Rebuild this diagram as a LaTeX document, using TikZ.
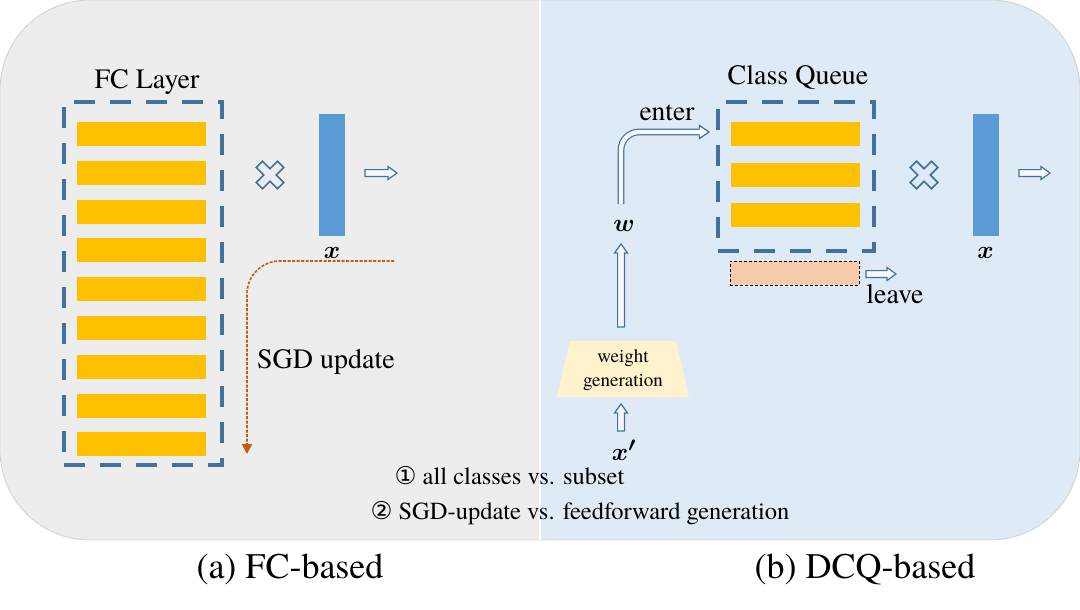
\documentclass[tikz,border=0pt]{standalone}
\usepackage{fontspec}
\setmainfont{texgyretermes}[Extension=.otf, UprightFont=*-regular, ItalicFont=*-italic, BoldFont=*-bold, BoldItalicFont=*-bolditalic]
\newfontfamily\symfont{DejaVu Sans}
\usetikzlibrary{arrows.meta}
\definecolor{panelgray}{HTML}{EDEDED}
\definecolor{panelblue}{HTML}{DEEAF6}
\definecolor{qyellow}{HTML}{FFC000}
\definecolor{vecblue}{HTML}{5B9BD5}
\definecolor{dashblue}{HTML}{41719C}
\definecolor{leavepink}{HTML}{F8CBAD}
\definecolor{genyellow}{HTML}{FFF2CC}
\definecolor{sgdorange}{HTML}{C55A11}
\tikzset{
  rowbar/.style={fill=qyellow, draw=none, minimum width=129pt, minimum height=24pt, inner sep=0pt},
  vecbar/.style={fill=vecblue, draw=none, minimum width=26pt, minimum height=122pt, inner sep=0pt},
  layerbox/.style={draw=dashblue, line width=4.5pt, dash pattern=on 21pt off 15pt, inner sep=0pt},
  hollowhead/.style={draw=dashblue, line width=1.2pt, fill=white!70!panelblue, line join=miter},
  hollowshaft/.style={draw=dashblue, line width=1.2pt, double=white!70!panelblue, double distance=4.4pt},
  lbl/.style={inner sep=0pt, font=\fontsize{28}{32}\selectfont},
  mathlbl/.style={inner sep=0pt, font=\fontsize{29}{32}\selectfont\boldmath},
  noteline/.style={inner sep=0pt, font=\fontsize{24.5}{28}\selectfont},
  caption/.style={inner sep=0pt, font=\fontsize{36}{40}\selectfont},
  sgdline/.style={draw=sgdorange, line width=1.6pt, dash pattern=on 3pt off 1.5pt, rounded corners=33pt, -{Triangle[length=10pt,width=10pt]}},
  crossmark/.style={draw=dashblue, line width=1.6pt, fill=none, line join=miter}
}
\newcommand{\crossat}[2]{%
  \draw[crossmark, shift={(#1,#2)}, rotate=45]
    (4.5,15) -- (4.5,4.5) -- (15,4.5) -- (15,-4.5) -- (4.5,-4.5) -- (4.5,-15)
    -- (-4.5,-15) -- (-4.5,-4.5) -- (-15,-4.5) -- (-15,4.5) -- (-4.5,4.5) -- (-4.5,15) -- cycle;}
% hollow arrow pointing right: x0, y, x1
\newcommand{\hollowright}[3]{%
  \draw[hollowhead] (#1,#2-3.4) -- (#3-9,#2-3.4) -- (#3-9,#2-6.5) -- (#3,#2) -- (#3-9,#2+6.5) -- (#3-9,#2+3.4) -- (#1,#2+3.4) -- cycle;}
% hollow arrow pointing up: x, y0 (bottom), y1 (tip)
\newcommand{\hollowup}[3]{%
  \draw[hollowhead] (#1-3.4,#2) -- (#1-3.4,#3+9) -- (#1-6.5,#3+9) -- (#1,#3) -- (#1+6.5,#3+9) -- (#1+3.4,#3+9) -- (#1+3.4,#2) -- cycle;}
\begin{document}
\begin{tikzpicture}[x=1pt,y=-1pt]
\useasboundingbox (0,0) rectangle (1080,610);
% background panels
\begin{scope}
  \clip[rounded corners=90pt] (0,0) rectangle (1080,540);
  \fill[panelgray] (0,0) rectangle (540,540);
  \fill[panelblue] (540,0) rectangle (1080,540);
\end{scope}
\draw[black!18, line width=0.8pt, rounded corners=90pt] (0,0) rectangle (1080,540);
\draw[white, line width=2pt] (540,0) -- (540,540);

% ---------- (a) FC-based ----------
\node[layerbox, minimum width=158pt, minimum height=363pt] (fc) at (143,283.5) {};
\node[lbl] (fclabel) at (147,82) {FC Layer};
\foreach \i in {0,...,8} {
  \node[rowbar] (fcrow\i) at (141,134+38.8*\i) {};
}
\crossat{270}{175}
\node[vecbar] (xa) at (332,175) {};
\node[mathlbl] (xalabel) at (332,253) {$x$};
\hollowright{365}{173}{397}
\coordinate (sgdstart) at (394,261);
\coordinate (sgdend) at (247,454);
\draw[sgdline] (sgdstart) -| (sgdend);
\node[lbl] (sgdlabel) at (326,362) {SGD update};

% ---------- (b) DCQ-based ----------
\node[layerbox, minimum width=156pt, minimum height=149pt] (queue) at (796,176.5) {};
\node[lbl] (qlabel) at (798,77) {Class Queue};
\foreach \i in {0,1,2} {
  \node[rowbar] (qrow\i) at (795.5,134+40.5*\i) {};
}
\node[draw=black, line width=1pt, dash pattern=on 3pt off 2pt, fill=leavepink,
      minimum width=129pt, minimum height=24pt, inner sep=0pt] (leaving) at (794.5,273) {};
\hollowright{866}{274}{896}
\node[lbl] (leavelabel) at (895,294) {leave};
\crossat{924}{175}
\node[vecbar] (xb) at (985.5,175) {};
\node[mathlbl] (xblabel) at (985.5,253) {$x$};
\hollowright{1019}{173}{1050}

% weight generation
\fill[genyellow] (570,341) -- (676,341) -- (689,397) -- (557,397) -- cycle;
\node[inner sep=0pt, align=center, font=\fontsize{19}{24}\selectfont] (wgen) at (623,370) {weight\\generation};
\node[mathlbl] (wlabel) at (624,226) {$w$};
\node[inner sep=0pt, font=\fontsize{32}{34}\selectfont\boldmath] (xplabel) at (624,450) {$x'$};
\hollowup{621}{431}{404}
\hollowup{621}{327}{244}
\coordinate (enter0) at (621,204);
\coordinate (enter1) at (700,132);
\draw[hollowshaft, rounded corners=18pt] (enter0) |- (enter1);
\draw[hollowhead] (699.5,128.6) -- (699.5,125.5) -- (709,132) -- (699.5,138.5) -- (699.5,135.4);
\node[inner sep=0pt, font=\fontsize{27.5}{30}\selectfont] (enterlabel) at (667,113) {enter};

% notes
\node[noteline] (note1) at (509.5,476) {{\symfont ①} all classes vs. subset};
\node[noteline] (note2) at (580,513) {{\symfont ②} SGD-update vs. feedforward generation};

% captions
\node[caption] (capa) at (290,569) {(a) FC-based};
\node[caption] (capb) at (865,569) {(b) DCQ-based};
\end{tikzpicture}
\end{document}
